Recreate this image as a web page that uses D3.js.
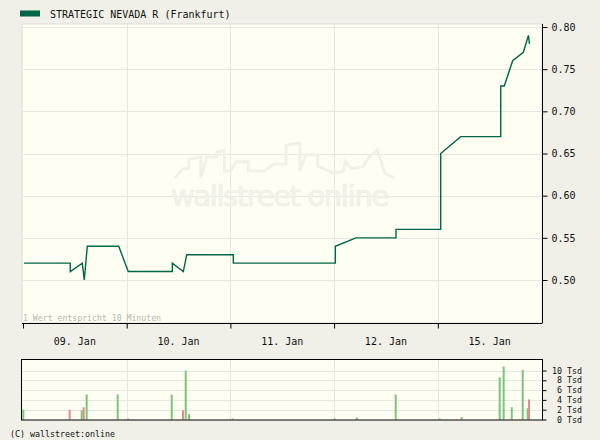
<!DOCTYPE html>
<html><head><meta charset="utf-8">
<script src="https://cdn.jsdelivr.net/npm/d3@7"></script>
<style>
html,body{margin:0;padding:0;background:#f0efe8;}
svg{display:block;}
text{font-family:"DejaVu Sans Mono",monospace;}
</style></head>
<body>
<script>
// ---- data ----
const title = "STRATEGIC NEVADA R (Frankfurt)";
const dayLabels = ["09. Jan", "10. Jan", "11. Jan", "12. Jan", "15. Jan"];
const priceTicks = [0.50, 0.55, 0.60, 0.65, 0.70, 0.75, 0.80];
const volumeTicks = [0, 2, 4, 6, 8, 10];
// time as position in trading days (0 = start of 09. Jan)
const priceTimes = [0.01, 0.456, 0.456, 0.572, 0.591, 0.62, 0.923, 1.015, 1.44, 1.44, 1.546, 1.579, 2.028, 2.028,
  3.012, 3.012, 3.211, 3.597, 3.597, 4.028, 4.028, 4.221, 4.607, 4.607, 4.641, 4.722, 4.825, 4.874, 4.884];
const priceValues = [0.52, 0.52, 0.51, 0.52, 0.50, 0.54, 0.54, 0.51, 0.51, 0.52, 0.51, 0.53, 0.53, 0.52,
  0.52, 0.54, 0.55, 0.55, 0.56, 0.56, 0.65, 0.67, 0.67, 0.73, 0.73, 0.76, 0.77, 0.79, 0.78];
const volumeTimes = [0.003, 0.45, 0.566, 0.585, 0.614, 0.913, 1.013, 1.434, 1.543, 1.569, 1.601, 2.022,
  3.006, 3.218, 3.594, 4.018, 4.23, 4.597, 4.635, 4.713, 4.819, 4.867, 4.88];
const volumeValues = [2.0, 2.0, 1.9, 2.5, 5.1, 5.1, 0.2, 5.1, 1.9, 10.0, 1.1, 0.2,
  0.2, 0.4, 5.1, 0.2, 0.5, 8.6, 10.8, 2.5, 10.1, 2.3, 4.1];
const volumeUp = [1, 0, 1, 0, 1, 1, 0, 1, 0, 1, 1, 0,
  1, 1, 1, 1, 1, 1, 1, 1, 1, 1, 0];

// ---- layout ----
const W = 600, H = 440;
const L = 22, R = 542, T = 24, B = 323;
const VT = 359.5, VB = 420;
const lineColor = "#006648", gridColor = "#e6e6e2", plotBg = "#fefef2";

const svg = d3.select("body").append("svg").attr("width", W).attr("height", H);
svg.append("rect").attr("width", W).attr("height", H).attr("fill", "#f0efe8");

const x = d3.scaleLinear().domain([0, 5]).range([23, 541.5]);
const y = d3.scaleLinear().domain([0.50, 0.80]).range([280, 27]);
const yv = d3.scaleLinear().domain([0, 10]).range([419.5, 370.5]);

// legend
svg.append("rect").attr("x", 20).attr("y", 10.5).attr("width", 20).attr("height", 6).attr("fill", lineColor);
svg.append("text").attr("x", 50).attr("y", 18).attr("font-size", 10).attr("fill", "#111").text(title);

// main plot
svg.append("rect").attr("x", L).attr("y", T).attr("width", R - L).attr("height", B - T)
  .attr("fill", plotBg).attr("stroke", "#dcdcd6").attr("stroke-width", 1);

const dayBounds = d3.range(1, 5);
const gMain = svg.append("g");
gMain.selectAll(".vg").data(dayBounds).join("line")
  .attr("x1", d => Math.round(x(d)) + 0.5).attr("x2", d => Math.round(x(d)) + 0.5)
  .attr("y1", T).attr("y2", B).attr("stroke", gridColor);
gMain.selectAll(".hg").data(priceTicks).join("line")
  .attr("x1", L).attr("x2", R).attr("y1", d => Math.round(y(d)) + 0.5).attr("y2", d => Math.round(y(d)) + 0.5)
  .attr("stroke", gridColor);

// watermark
const wm = svg.append("g");
const sky = [[0,30],[8,22],[14,22],[14,14],[26,12],[26,30],[32,12],[42,12],[42,8],[50,6],[50,24],[56,24],[62,16],
  [74,16],[74,24],[90,24],[100,18],[112,18],[112,2],[126,0],[126,24],[132,10],[144,10],[144,20],[150,22],[160,26],
  [170,24],[172,16],[178,22],[190,20],[196,12],[204,6],[212,26],[222,30]];
const sx = d3.scaleLinear().domain([0, 222]).range([175, 395]);
const sy = d3.scaleLinear().domain([0, 30]).range([143, 178]);
wm.append("path").attr("d", d3.line().x(d => sx(d[0])).y(d => sy(d[1]))(sky))
  .attr("fill", "none").attr("stroke", "#f1f1e8").attr("stroke-width", 3);
wm.append("text").attr("x", 280).attr("y", 206).attr("text-anchor", "middle")
  .style("font-family", "'DejaVu Sans', sans-serif")
  .attr("font-size", 29).attr("textLength", 218).attr("fill", "#f3f3ea").attr("stroke", "#ebebe2").attr("stroke-width", 0.5)
  .text("wallstreet online");

svg.append("text").attr("x", 23).attr("y", 321).attr("font-size", 8.2).attr("fill", "#b8b8b0")
  .text("1 Wert entspricht 10 Minuten");

// price line
const pts = priceTimes.map((t, i) => [t, priceValues[i]]);
svg.append("path").attr("d", d3.line().x(d => x(d[0])).y(d => y(d[1]))(pts))
  .attr("fill", "none").attr("stroke", lineColor).attr("stroke-width", 1.4);

// axes main
const yAxis = d3.axisRight(y).tickValues(priceTicks).tickFormat(d3.format(".2f")).tickSize(5).tickPadding(4);
const gy = svg.append("g").attr("transform", `translate(${R + 0.5},0)`).call(yAxis);
gy.select(".domain").attr("d", `M0,${T}V${B}`).attr("stroke", "#000");
gy.selectAll("text").attr("font-size", 10).attr("fill", "#111").style("font-family", "'DejaVu Sans Mono',monospace");
gy.selectAll(".tick line").attr("stroke", "#000");

const xAxis = d3.axisBottom(x).tickValues(d3.range(0, 5)).tickSize(5).tickFormat("");
const gx = svg.append("g").attr("transform", `translate(0,${B + 0.5})`).call(xAxis);
gx.select(".domain").attr("d", `M${L},0H${R + 0.5}`).attr("stroke", "#000");
gx.selectAll(".tick line").attr("stroke", "#000");
svg.selectAll(".dl").data(dayLabels).join("text")
  .attr("x", (d, i) => x(i + 0.5)).attr("y", 345).attr("text-anchor", "middle")
  .attr("font-size", 10).attr("fill", "#111").text(d => d);

// volume panel
svg.append("rect").attr("x", L - 0.5).attr("y", VT).attr("width", R - L + 1).attr("height", VB - VT)
  .attr("fill", plotBg);
svg.selectAll(".vvg").data(dayBounds).join("line")
  .attr("x1", d => Math.round(x(d)) + 0.5).attr("x2", d => Math.round(x(d)) + 0.5)
  .attr("y1", VT).attr("y2", VB).attr("stroke", gridColor);
svg.selectAll(".vhg").data(volumeTicks.slice(1)).join("line")
  .attr("x1", L).attr("x2", R).attr("y1", d => Math.round(yv(d)) + 0.5).attr("y2", d => Math.round(yv(d)) + 0.5)
  .attr("stroke", gridColor);
svg.selectAll(".vb").data(volumeTimes).join("rect")
  .attr("x", d => x(d) - 1).attr("width", 2)
  .attr("y", (d, i) => yv(volumeValues[i])).attr("height", (d, i) => yv(0) - yv(volumeValues[i]))
  .attr("fill", (d, i) => volumeUp[i] ? "#7cc47c" : "#e08c8c");
svg.append("rect").attr("x", L - 0.5).attr("y", VT).attr("width", R - L + 1).attr("height", VB - VT)
  .attr("fill", "none").attr("stroke", "#000").attr("stroke-width", 1);
const vAxis = d3.axisRight(yv).tickValues(volumeTicks).tickSize(4).tickFormat(d => "");
const gv = svg.append("g").attr("transform", `translate(${R + 0.5},0)`).call(vAxis);
gv.select(".domain").remove();
gv.selectAll(".tick line").attr("stroke", "#000");
svg.selectAll(".vl").data(volumeTicks).join("text")
  .attr("x", 582).attr("y", d => yv(d) + 3).attr("text-anchor", "end")
  .attr("font-size", 8.3).attr("fill", "#111").text(d => d + " Tsd");

// footer
svg.append("text").attr("x", 10).attr("y", 437).attr("font-size", 8.3).attr("fill", "#111")
  .text("(C) wallstreet:online");
</script>
</body></html>
